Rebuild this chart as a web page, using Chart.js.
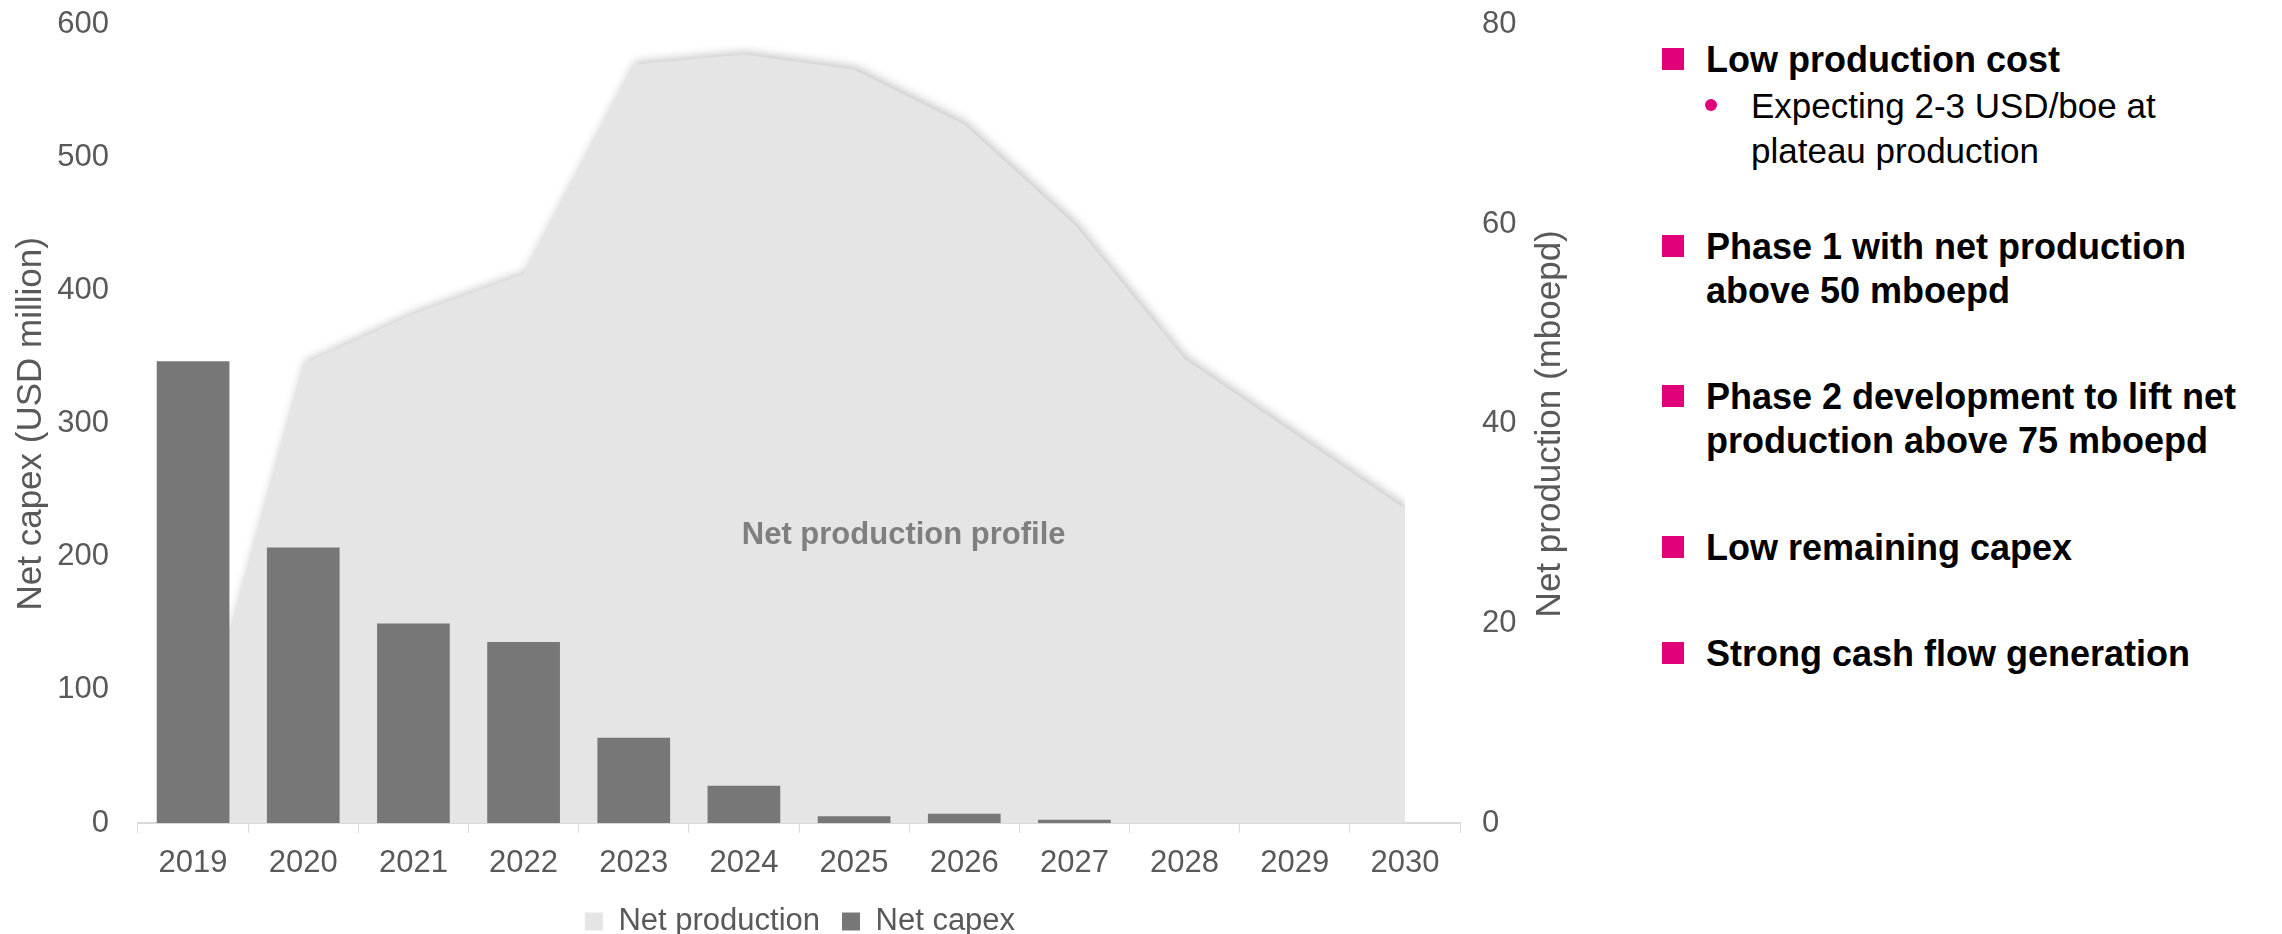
<!DOCTYPE html>
<html>
<head>
<meta charset="utf-8">
<script src="https://cdn.jsdelivr.net/npm/chart.js@4.4.1/dist/chart.umd.min.js"></script>
<style>
  body { margin: 0; background: #fff; width: 2282px; height: 934px; overflow: hidden; font-family: 'Liberation Sans', Arial, sans-serif; }
  #wrap { position: absolute; left: 0; top: 0; width: 1600px; height: 934px; }
  .pt { position: absolute; left: 1706px; font-weight: bold; font-size: 36px; line-height: 44px; color: #000; white-space: nowrap; }
  .pt::before { content: ''; position: absolute; left: -44px; top: 10px; width: 22px; height: 22px; background: #E2007A; }
  .sub { position: absolute; left: 1751px; top: 83px; font-size: 35px; line-height: 45px; color: #000; white-space: nowrap; }
  .sub::before { content: ''; position: absolute; left: -46px; top: 16px; width: 12px; height: 12px; border-radius: 50%; background: #E2007A; }
</style>
</head>
<body>
<div id="wrap"><canvas id="prodChart"></canvas></div>

<div class="pt" style="top:38px">Low production cost</div>
<div class="sub">Expecting 2-3 USD/boe at<br>plateau production</div>
<div class="pt" style="top:225px">Phase 1 with net production<br>above 50 mboepd</div>
<div class="pt" style="top:375px">Phase 2 development to lift net<br>production above 75 mboepd</div>
<div class="pt" style="top:526px">Low remaining capex</div>
<div class="pt" style="top:632px">Strong cash flow generation</div>

<script>
    // Дані
    const years = ['2019', '2020', '2021', '2022', '2023', '2024', '2025', '2026', '2027', '2028', '2029', '2030'];
    const netCapex = [347, 207, 150, 136, 64, 28, 5, 7, 2.5, 0, 0, 0];
    const netProduction = [6, 46, 51, 55, 76, 77, 75.5, 70, 60, 46.5, 39, 31.5];
    const capexTicks = [0, 100, 200, 300, 400, 500, 600];
    const productionTicks = [0, 20, 40, 60, 80];
    const profileLabel = { text: 'Net production profile', x: 6.45, y: 28.8 };
    const rightTitle = 'Net production (mboepd)';

    const font = "'Liberation Sans', Arial, sans-serif";
    const grey = '#595959';

    // Тінь під площею
    const areaShadow = {
        id: 'areaShadow',
        beforeDatasetsDraw(chart) {
            const ctx = chart.ctx;
            ctx.save();
            ctx.shadowColor = 'rgba(0, 0, 0, 0.22)';
            ctx.shadowBlur = 10;
            ctx.shadowOffsetX = 2;
            ctx.shadowOffsetY = -3;
        },
        afterDatasetDraw(chart, args) {
            if (args.index === 0) chart.ctx.restore();
        }
    };

    // Підписи: текст на площі та назва правої осі
    const extraText = {
        id: 'extraText',
        afterDatasetsDraw(chart) {
            const ctx = chart.ctx;
            const area = chart.chartArea;
            ctx.save();
            ctx.font = 'bold 31px ' + font;
            ctx.fillStyle = '#7F7F7F';
            ctx.textAlign = 'center';
            ctx.textBaseline = 'middle';
            ctx.fillText(profileLabel.text, chart.scales.x.getPixelForValue(profileLabel.x), chart.scales.y1.getPixelForValue(profileLabel.y));
            ctx.translate(chart.scales.y1.right - 50, (area.top + area.bottom) / 2);
            ctx.rotate(-Math.PI / 2);
            ctx.font = '35px ' + font;
            ctx.fillStyle = grey;
            ctx.fillText(rightTitle, 0, 0);
            ctx.restore();
        }
    };

    const config = {
        type: 'bar',
        data: {
            labels: years,
            datasets: [
                {
                    type: 'line',
                    label: 'Net production',
                    data: netProduction,
                    yAxisID: 'y1',
                    backgroundColor: '#E5E5E5',
                    borderColor: '#E5E5E5',
                    borderWidth: 0,
                    pointRadius: 0,
                    fill: 'origin',
                    tension: 0,
                    order: 2
                },
                {
                    label: 'Net capex',
                    data: netCapex,
                    yAxisID: 'y',
                    backgroundColor: '#777777',
                    barPercentage: 0.66,
                    categoryPercentage: 1,
                    order: 1
                }
            ]
        },
        options: {
            responsive: true,
            maintainAspectRatio: false,
            animation: false,
            layout: { padding: { top: 0, bottom: -13, left: 0, right: 0 } },
            plugins: {
                legend: {
                    position: 'bottom',
                    labels: {
                        color: grey,
                        font: { family: font, size: 31 },
                        boxWidth: 18,
                        boxHeight: 18,
                        padding: 22,
                        sort: (a, b) => a.datasetIndex - b.datasetIndex
                    }
                },
                tooltip: { enabled: false }
            },
            scales: {
                x: {
                    grid: { display: true, drawOnChartArea: false, drawTicks: true, tickLength: 10, color: '#D9D9D9', offset: true },
                    border: { display: true, color: '#D9D9D9', width: 2 },
                    ticks: { color: grey, font: { family: font, size: 31 }, padding: 12, maxRotation: 0 },
                    afterFit: (s) => { s.height = 61; }
                },
                y: {
                    position: 'left',
                    min: 0,
                    max: 600,
                    afterBuildTicks: (s) => { s.ticks = capexTicks.map(v => ({ value: v })); },
                    grid: { display: false, drawTicks: true, tickLength: 23 },
                    border: { display: false },
                    ticks: { color: grey, font: { family: font, size: 31 }, padding: 6 },
                    title: { display: true, text: 'Net capex (USD million)', color: grey, font: { family: font, size: 35 }, padding: { top: 10, bottom: 0 } },
                    afterFit: (s) => { s.width = 138; }
                },
                y1: {
                    position: 'right',
                    min: 0,
                    max: 80,
                    afterBuildTicks: (s) => { s.ticks = productionTicks.map(v => ({ value: v })); },
                    grid: { display: false, drawTicks: true, tickLength: 16 },
                    border: { display: false },
                    ticks: { color: grey, font: { family: font, size: 31 }, padding: 6 },
                    afterFit: (s) => { s.width = 140; }
                }
            }
        },
        plugins: [areaShadow, extraText]
    };

    const ctx = document.getElementById('prodChart').getContext('2d');
    new Chart(ctx, config);
</script>
</body>
</html>
